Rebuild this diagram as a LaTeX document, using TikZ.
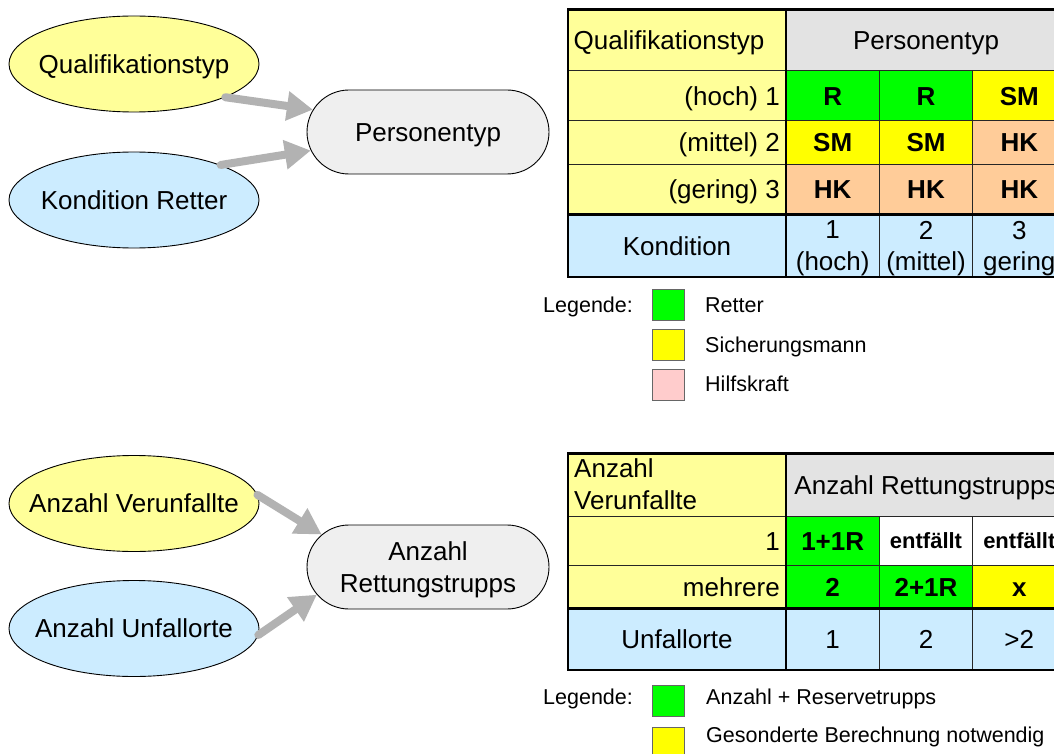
\documentclass[tikz,border=0pt]{standalone}
\usepackage{fontspec}
\setmainfont{Liberation Sans}
\usetikzlibrary{shapes.geometric,shapes.misc,arrows.meta}

\definecolor{paleyellow}{HTML}{FFFF99}
\definecolor{paleblue}{HTML}{CCECFF}
\definecolor{headgray}{HTML}{E3E3E3}
\definecolor{pillgray}{HTML}{EFEFEF}
\definecolor{rgreen}{HTML}{00FF00}
\definecolor{ryellow}{HTML}{FFFF00}
\definecolor{rorange}{HTML}{FFCC99}
\definecolor{rpink}{HTML}{FFCCCC}
\definecolor{arrowgray}{HTML}{B2B2B2}

\begin{document}
\begin{tikzpicture}[x=1pt,y=-1pt,
  txt/.style={inner sep=0pt, font=\fontsize{26}{31.5}\selectfont, text height=18.6pt, text depth=0pt},
  btxt/.style={txt, font=\fontsize{26}{31.5}\selectfont\bfseries},
  stxt/.style={txt, font=\fontsize{22}{26}\selectfont\bfseries, text height=15.8pt},
  mtxt/.style={inner sep=0pt, font=\fontsize{26}{31.5}\selectfont, align=center, anchor=north},
  ltxt/.style={inner sep=0pt, font=\fontsize{21.5}{26}\selectfont, text height=15.4pt, text depth=0pt, anchor=west},
  oval/.style={ellipse, draw=black, line width=0.9pt, minimum width=250pt, minimum height=96pt,
    inner sep=0pt, font=\fontsize{26}{31.5}\selectfont, text height=18.6pt, text depth=0pt},
  pill/.style={rounded rectangle, draw=black, line width=0.9pt, fill=pillgray,
    minimum width=242pt, minimum height=84pt, inner sep=0pt,
    font=\fontsize{26}{31.5}\selectfont, text height=18.6pt, text depth=0pt},
  flow/.style={draw=arrowgray, line width=8pt, line cap=round, -{Triangle[length=26pt,width=28pt]}},
  gridline/.style={draw=black!85, line width=1pt},
  frameline/.style={draw=black, line width=2.6pt},
  keybox/.style={draw=black!60, line width=1pt}
]
\useasboundingbox (0,0) rectangle (1054,754);
\fill[white] (0,0) rectangle (1054,754);
\clip (0,0) rectangle (1054,754);

% ---------- upper part: Personentyp ----------
\node[oval, fill=paleyellow] (q) at (134,64) {\makebox[0pt]{Qualifikationstyp}};
\node[oval, fill=paleblue] (kr) at (134,200) {\makebox[0pt]{Kondition Retter}};
\node[pill] (pt) at (428,132) {Personentyp};
\draw[flow] (q.-20) -- (pt.169);
\draw[flow] (kr.22) -- (pt.189);

% table cells
\fill[paleyellow] (568,9.3) rectangle (786,214.3);
\fill[headgray] (786,9.3) rectangle (1066,71);
\fill[rgreen] (786,71) rectangle (972.7,121);
\fill[ryellow] (972.7,71) rectangle (1066,121);
\fill[ryellow] (786,121) rectangle (972.7,164.3);
\fill[rorange] (972.7,121) rectangle (1066,164.3);
\fill[rorange] (786,164.3) rectangle (1066,214.3);
\fill[paleblue] (568,214.3) rectangle (1066,277);
\draw[gridline] (568,71) -- (1066,71) (568,121) -- (1066,121) (568,164.3) -- (1066,164.3)
  (879.3,71) -- (879.3,277) (972.7,71) -- (972.7,277);
\draw[frameline] (786,9.3) -- (786,277) (568,214.3) -- (1066,214.3);
\draw[frameline] (568,9.3) rectangle (1066,277);

\node[txt, anchor=west] (tq) at (573.5,40) {Qualifikationstyp};
\node[txt] (tp) at (926,40) {Personentyp};
\node[txt, anchor=east] (tr1) at (780,96) {(hoch) 1};
\node[txt, anchor=east] (tr2) at (780,142.7) {(mittel) 2};
\node[txt, anchor=east] (tr3) at (780,189.3) {(gering) 3};
\node[btxt] (c11) at (832.7,96) {R};
\node[btxt] (c12) at (926,96) {R};
\node[btxt] (c13) at (1019.3,96) {SM};
\node[btxt] (c21) at (832.7,142.7) {SM};
\node[btxt] (c22) at (926,142.7) {SM};
\node[btxt] (c23) at (1019.3,142.7) {HK};
\node[btxt] (c31) at (832.7,189.3) {HK};
\node[btxt] (c32) at (926,189.3) {HK};
\node[btxt] (c33) at (1019.3,189.3) {HK};
\node[txt] (tk) at (677,245.7) {Kondition};
\node[mtxt] (tk1) at (832.7,220.7) {1\\(hoch)};
\node[mtxt] (tk2) at (926,220.7) {2\\(mittel)};
\node[mtxt] (tk3) at (1019.3,220.7) {3\\gering};

% legend
\node[ltxt] (lga) at (543,305) {Legende:};
\draw[keybox, fill=rgreen] (652,289.3) rectangle (684,320.7);
\draw[keybox, fill=ryellow] (652,329.3) rectangle (684,360.7);
\draw[keybox, fill=rpink] (652,369.3) rectangle (684,400.7);
\node[ltxt] (lga1) at (705,305) {Retter};
\node[ltxt] (lga2) at (705,345) {Sicherungsmann};
\node[ltxt] (lga3) at (705,384) {Hilfskraft};

% ---------- lower part: Anzahl Rettungstrupps ----------
\node[oval, fill=paleyellow] (av) at (134,503.5) {\makebox[0pt]{Anzahl Verunfallte}};
\node[oval, fill=paleblue] (au) at (134,628.5) {\makebox[0pt]{Anzahl Unfallorte}};
\node[pill] (rt) at (428,567) {};
\node[mtxt] (rtl) at (428,541.7) {Anzahl\\Rettungstrupps};
\draw[flow] (av.4) -- (rt.163);
\draw[flow] (au.-3) -- (rt.194);

% table cells
\fill[paleyellow] (568,453.3) rectangle (786,608.3);
\fill[headgray] (786,453.3) rectangle (1066,516);
\fill[rgreen] (786,516) rectangle (879.3,565.7);
\fill[white] (879.3,516) rectangle (1066,565.7);
\fill[rgreen] (786,565.7) rectangle (972.7,608.3);
\fill[ryellow] (972.7,565.7) rectangle (1066,608.3);
\fill[paleblue] (568,608.3) rectangle (1066,670);
\draw[gridline] (568,516) -- (1066,516) (568,565.7) -- (1066,565.7)
  (879.3,516) -- (879.3,670) (972.7,516) -- (972.7,670);
\draw[frameline] (786,453.3) -- (786,670) (568,608.3) -- (1066,608.3);
\draw[frameline] (568,453.3) rectangle (1066,670);

\node[mtxt, align=left, anchor=north west] (ta) at (574,458.7) {Anzahl\\Verunfallte};
\node[txt] (trt) at (926,484.7) {Anzahl Rettungstrupps};
\node[txt, anchor=east] (ts1) at (780,540.8) {1};
\node[txt, anchor=east] (ts2) at (780,587) {mehrere};
\node[btxt] (d11) at (832.7,540.8) {1+1R};
\node[stxt] (d12) at (926,540.8) {entfällt};
\node[stxt] (d13) at (1019.3,540.8) {entfällt};
\node[btxt] (d21) at (832.7,587) {2};
\node[btxt] (d22) at (926,587) {2+1R};
\node[btxt] (d23) at (1019.3,587) {x};
\node[txt] (tu) at (677,639) {Unfallorte};
\node[txt] (tu1) at (832.7,639) {1};
\node[txt] (tu2) at (926,639) {2};
\node[txt] (tu3) at (1019.3,639) {>2};

% legend
\node[ltxt] (lgb) at (543,697) {Legende:};
\draw[keybox, fill=rgreen] (652,685) rectangle (684,716.4);
\draw[keybox, fill=ryellow] (652,727) rectangle (684,758.4);
\node[ltxt] (lgb1) at (706,697) {Anzahl + Reservetrupps};
\node[ltxt] (lgb2) at (706,735) {Gesonderte Berechnung notwendig};
\end{tikzpicture}
\end{document}
